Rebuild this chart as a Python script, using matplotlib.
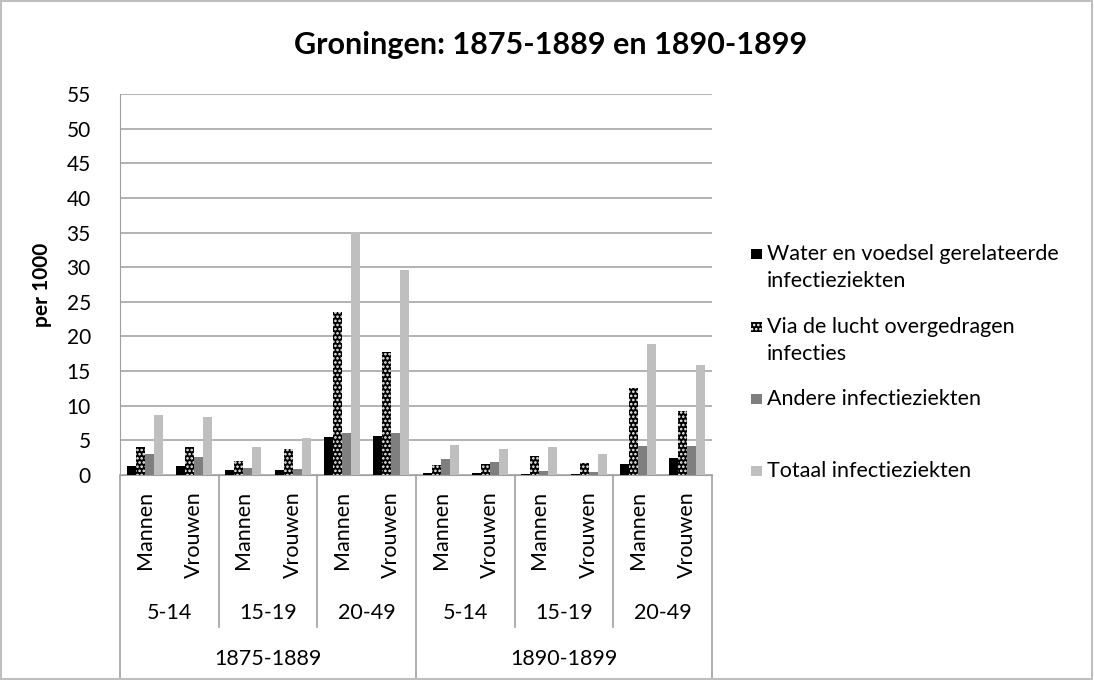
import matplotlib.pyplot as plt
from matplotlib.patches import Rectangle

# Data (per 1000)
geslacht = ["Mannen", "Vrouwen"] * 6
leeftijd = ["5-14", "15-19", "20-49", "5-14", "15-19", "20-49"]
perioden = ["1875-1889", "1890-1899"]

water = [1.35, 1.35, 0.7, 0.7, 5.5, 5.7, 0.3, 0.35, 0.1, 0.1, 1.65, 2.5]
lucht = [4.0, 4.0, 2.0, 3.7, 23.5, 17.7, 1.45, 1.65, 2.8, 1.8, 12.5, 9.2]
andere = [3.1, 2.65, 1.0, 0.8, 6.0, 6.0, 2.3, 1.85, 0.6, 0.5, 4.15, 4.15]
totaal = [8.7, 8.35, 4.0, 5.3, 35.1, 29.6, 4.35, 3.8, 4.0, 3.0, 18.9, 15.9]

series = [
    (["Water en voedsel gerelateerde", "infectieziekten"], water),
    (["Via de lucht overgedragen", "infecties"], lucht),
    (["Andere infectieziekten"], andere),
    (["Totaal infectieziekten"], totaal),
]
colors = ["#000000", "#000000", "#7f7f7f", "#bfbfbf"]

plt.rcParams['font.family'] = ['Lato', 'DejaVu Sans']
plt.rcParams['hatch.linewidth'] = 1.2

W, H = 1094, 680
fig = plt.figure(figsize=(W / 100, H / 100), dpi=100)
ax = fig.add_axes([120 / W, 1 - 475 / H, 592 / W, 381 / H])

x = list(range(len(water)))
w = 0.183
for i, (name, vals) in enumerate(series):
    pos = [xi + (i - 1.5) * w for xi in x]
    if i == 1:
        ax.bar(pos, vals, width=w, color="black", edgecolor="white",
               hatch="....", linewidth=0, zorder=3)
    else:
        ax.bar(pos, vals, width=w, color=colors[i], linewidth=0, zorder=3)

ax.set_xlim(-0.5, 11.5)
ax.set_ylim(0, 55)
ax.set_yticks(range(0, 56, 5))
ax.tick_params(axis='y', labelsize=15, length=0, pad=21)
ax.set_xticks([])
ax.grid(axis='y', color="#a6a6a6", linewidth=1.2, zorder=0)
for s in ["top", "right"]:
    ax.spines[s].set_visible(False)
ax.spines["left"].set_color("#a0a0a0")
ax.spines["bottom"].set_color("#a0a0a0")
ax.set_ylabel("per 1000", fontsize=15, fontweight="bold")
ax.yaxis.set_label_coords(-0.115, 0.5)

fig.text(551 / W, 1 - 54 / H, "Groningen: 1875-1889 en 1890-1899",
         ha="center", va="baseline", fontsize=22, fontweight="bold")

# Multi-level category axis
tr = ax.get_xaxis_transform()
for xi, g in zip(x, geslacht):
    ax.text(xi, -0.042, g, rotation=90, ha="center", va="top",
            fontsize=15.5, transform=tr)
for j, a in enumerate(leeftijd):
    ax.text(2 * j + 0.5, -0.378, a, ha="center", va="baseline",
            fontsize=15.5, transform=tr)
for j, p in enumerate(perioden):
    ax.text(6 * j + 2.5, -0.499, p, ha="center", va="baseline",
            fontsize=15.5, transform=tr)
for b in [1.5, 3.5, 7.5, 9.5]:
    ax.plot([b, b], [0, -0.40], color="#a0a0a0", lw=1.2,
            transform=tr, clip_on=False)
for b in [-0.5, 5.5, 11.5]:
    ax.plot([b, b], [0, -0.54], color="#a0a0a0", lw=1.2,
            transform=tr, clip_on=False)

# Legend
leg_base = [260, 333, 405, 477]
for i, (lines, vals) in enumerate(series):
    base = leg_base[i]
    kw = dict(transform=fig.transFigure, linewidth=0)
    if i == 1:
        kw.update(facecolor="black", edgecolor="white", hatch="....")
    else:
        kw.update(facecolor=colors[i])
    fig.add_artist(Rectangle((751 / W, 1 - (base - 1) / H), 11 / W, 10 / H, **kw))
    for k, line in enumerate(lines):
        fig.text(767 / W, 1 - (base + 27 * k) / H, line, ha="left",
                 va="baseline", fontsize=15.5)

fig.add_artist(Rectangle((0.001, 0.001), 0.997, 0.997, transform=fig.transFigure,
                         facecolor="none", edgecolor="#bfbfbf", linewidth=1.5))

fig.savefig("out.png", dpi=100)
